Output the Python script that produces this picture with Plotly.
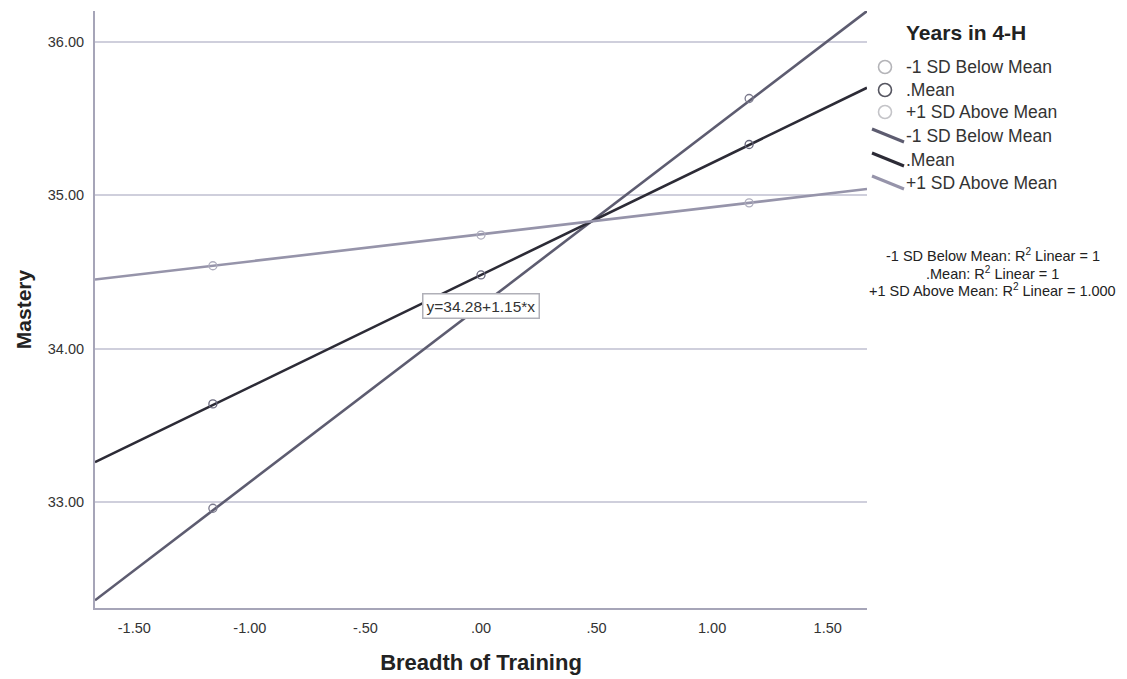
import plotly.graph_objects as go

# ---- data ----
x_points = [-1.16, 0.00, 1.16]
below_points = [32.96, 34.28, 35.63]
mean_points = [33.64, 34.48, 35.33]
above_points = [34.54, 34.74, 34.95]

fit_x = [-1.67, 1.67]
below_fit = [32.36, 36.20]
mean_fit = [33.26, 35.70]
above_fit = [34.45, 35.04]

series_names = ["-1 SD Below Mean", ".Mean", "+1 SD Above Mean"]
line_colors = ["#5d5c70", "#2c2b36", "#9694aa"]
marker_colors = ["#7a798c", "#66657a", "#aeadbd"]
legend_circle_colors = ["#b4b4b8", "#555560", "#c4c4c8"]

x_tickvals = [-1.5, -1.0, -0.5, 0.0, 0.5, 1.0, 1.5]
x_ticktext = ["-1.50", "-1.00", "-.50", ".00", ".50", "1.00", "1.50"]
y_tickvals = [33, 34, 35, 36]
y_ticktext = ["33.00", "34.00", "35.00", "36.00"]

equation_text = "y=34.28+1.15*x"
r2_lines = ["-1 SD Below Mean: R<sup>2</sup> Linear = 1",
            ".Mean: R<sup>2</sup> Linear = 1",
            "+1 SD Above Mean: R<sup>2</sup> Linear = 1.000"]

OFF = 8  # page body margin
W, H = 1127 - OFF, 679 - OFF
L, T = 95 - OFF, 11 - OFF
R = W - (867 - OFF)
B = H - (608 - OFF)
PW, PH = W - L - R, H - T - B

def px(xp):
    return (xp - OFF - L) / PW

def py(yp):
    return (H - B - (yp - OFF)) / PH

FONT = "Liberation Sans, Arial, sans-serif"

fig = go.Figure()

points = [below_points, mean_points, above_points]
fits = [below_fit, mean_fit, above_fit]
for name, col, mcol, pts, fy in zip(series_names, line_colors, marker_colors, points, fits):
    fig.add_trace(go.Scatter(x=fit_x, y=fy, mode="lines", name=name,
                             line=dict(color=col, width=2.6), showlegend=False,
                             hoverinfo="skip"))
    fig.add_trace(go.Scatter(x=x_points, y=pts, mode="markers", name=name,
                             marker=dict(symbol="circle-open", size=8,
                                         color=mcol, line=dict(width=1.3, color=mcol)),
                             showlegend=False))

fig.update_layout(
    width=W, height=H,
    margin=dict(l=L, r=R, t=T, b=B),
    paper_bgcolor="white", plot_bgcolor="white",
    font=dict(family=FONT, color="#333333"),
    xaxis=dict(range=[-1.67, 1.67], tickvals=x_tickvals, ticktext=x_ticktext,
               showgrid=False, zeroline=False, showline=True, linecolor="#a6a5b8",
               linewidth=2, ticks="", tickfont=dict(size=14.5, color="#333"),
               ticklabelstandoff=6,
               title=dict(text="<b>Breadth of Training</b>", font=dict(size=22, color="#222"),
                          standoff=19)),
    yaxis=dict(range=[32.31, 36.2], tickvals=y_tickvals, ticktext=y_ticktext,
               showgrid=True, gridcolor="#cfcfdc", gridwidth=1.5, zeroline=False,
               showline=True, linecolor="#a6a5b8", linewidth=2, ticks="",
               tickfont=dict(size=14.5, color="#333"), ticklabelstandoff=6,
               title=dict(text="<b>Mastery</b>", font=dict(size=21, color="#222"),
                          standoff=10)),
)

# equation label
fig.add_annotation(x=0.0, y=34.28, xref="x", yref="y", text=equation_text,
                   showarrow=False, font=dict(size=15.5, color="#333"),
                   bgcolor="white", bordercolor="#b0b0b8", borderwidth=1.5, borderpad=3)

# manual legend
fig.add_annotation(x=px(904), y=py(33), xref="paper", yref="paper",
                   text="<b>Years in 4-H</b>", showarrow=False, xanchor="left",
                   yanchor="middle", font=dict(size=21, color="#222"))
legend_rows = [67, 90, 112, 136, 160, 183]
for i, name in enumerate(series_names):
    yc = legend_rows[i]
    r = 6.5
    fig.add_shape(type="circle", xref="paper", yref="paper",
                  x0=px(885 - r), x1=px(885 + r), y0=py(yc + r), y1=py(yc - r),
                  line=dict(color=legend_circle_colors[i], width=1.6))
    fig.add_annotation(x=px(904), y=py(yc), xref="paper", yref="paper", text=name,
                       showarrow=False, xanchor="left", yanchor="middle",
                       font=dict(size=17.5, color="#333"))
for i, name in enumerate(series_names):
    yc = legend_rows[3 + i]
    fig.add_shape(type="line", xref="paper", yref="paper",
                  x0=px(872), x1=px(904), y0=py(yc - 7), y1=py(yc + 6),
                  line=dict(color=line_colors[i], width=3))
    fig.add_annotation(x=px(904), y=py(yc), xref="paper", yref="paper", text=name,
                       showarrow=False, xanchor="left", yanchor="middle",
                       font=dict(size=17.5, color="#333"))

for yc, txt in zip([255, 273, 290], r2_lines):
    fig.add_annotation(x=px(993), y=py(yc), xref="paper", yref="paper", text=txt,
                       showarrow=False, xanchor="center", yanchor="middle",
                       font=dict(size=14.5, color="#222"))

fig.write_html("out.html")
